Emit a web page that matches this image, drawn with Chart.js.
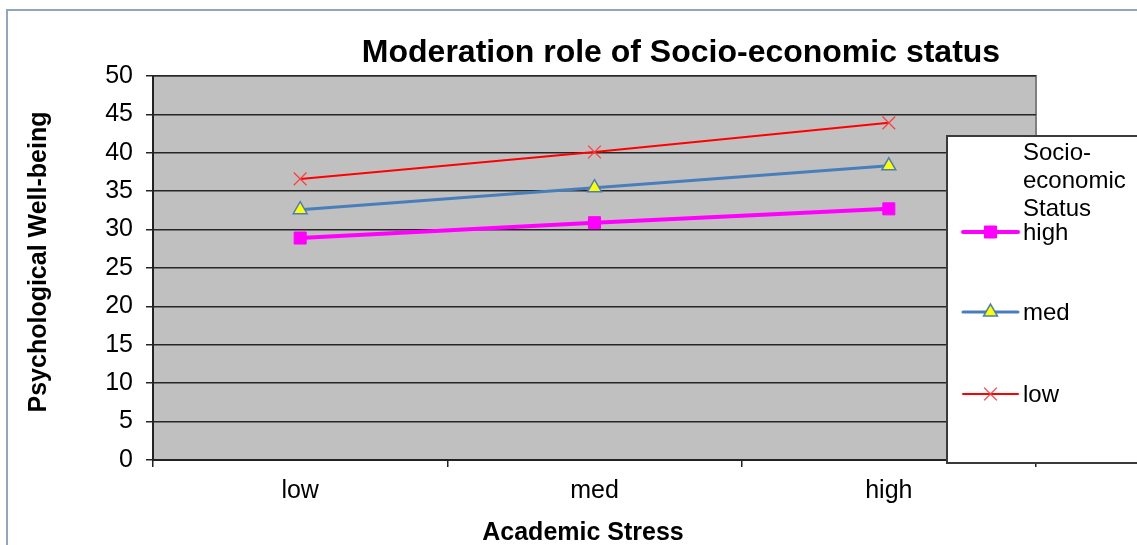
<!DOCTYPE html>
<html>
<head>
<meta charset="utf-8">
<title>Moderation role of Socio-economic status</title>
<script src="https://cdn.jsdelivr.net/npm/chart.js@4/dist/chart.umd.min.js"></script>
<style>
  html, body { margin: 0; padding: 0; background: #ffffff; }
  #wrap { width: 1137px; height: 545px; position: relative; }
</style>
</head>
<body>
<div id="wrap"><canvas id="chart" width="1137" height="545"></canvas></div>
<script>
// Academic stress levels on the x axis
const categories = ['low', 'med', 'high'];

// Psychological well-being per socio-economic status group
const seriesNames = ['high', 'med', 'low'];
const highSES = [28.9, 30.9, 32.7];
const medSES = [32.6, 35.45, 38.3];
const lowSES = [36.6, 40.1, 43.9];

// Value axis
const yMin = 0;
const yMax = 50;
const yStep = 5;

const titleText = 'Moderation role of Socio-economic status';
const xTitleText = 'Academic Stress';
const yTitleText = 'Psychological Well-being';
const legendTitleLines = ['Socio-', 'economic', 'Status'];

const FONT = '"Liberation Sans", Arial, Helvetica, sans-serif';

// Outer frame, plot background, titles and the boxed legend
const decor = {
  id: 'decor',
  beforeDraw(chart) {
    const { ctx, chartArea: a } = chart;
    ctx.save();
    ctx.fillStyle = '#ffffff';
    ctx.fillRect(0, 0, chart.width, chart.height);
    // frame
    ctx.strokeStyle = '#93a6c1';
    ctx.lineWidth = 2;
    ctx.beginPath();
    ctx.moveTo(7, chart.height + 2);
    ctx.lineTo(7, 10);
    ctx.lineTo(chart.width + 2, 10);
    ctx.stroke();
    // plot area
    ctx.fillStyle = '#c0c0c0';
    ctx.fillRect(a.left, a.top, a.right - a.left, a.bottom - a.top);
    ctx.strokeStyle = '#808080';
    ctx.lineWidth = 2;
    ctx.strokeRect(a.left, a.top, a.right - a.left, a.bottom - a.top);
    ctx.restore();
  },
  afterDraw(chart) {
    const { ctx, chartArea: a } = chart;
    ctx.save();
    ctx.fillStyle = '#000000';
    // chart title
    ctx.font = 'bold 32px ' + FONT;
    ctx.textAlign = 'center';
    ctx.textBaseline = 'alphabetic';
    ctx.fillText(titleText, a.left + 528, 62);
    // x axis title
    ctx.font = 'bold 25px ' + FONT;
    ctx.fillText(xTitleText, a.left + 430, 540);
    // y axis title
    ctx.save();
    ctx.translate(39, a.top + 186);
    ctx.rotate(-Math.PI / 2);
    ctx.textBaseline = 'middle';
    ctx.fillText(yTitleText, 0, 0);
    ctx.restore();

    // legend box
    const bx = 947, by = 136, bh = 327;
    ctx.fillStyle = '#ffffff';
    ctx.fillRect(bx, by, chart.width - bx + 5, bh);
    ctx.strokeStyle = '#3a3a3a';
    ctx.lineWidth = 2;
    ctx.strokeRect(bx, by, chart.width - bx + 5, bh);

    ctx.fillStyle = '#000000';
    ctx.font = '24px ' + FONT;
    ctx.textAlign = 'left';
    ctx.textBaseline = 'alphabetic';
    legendTitleLines.forEach((t, i) => ctx.fillText(t, 1023, 160 + i * 28));

    const rows = [232, 312, 394];
    chart.data.datasets.forEach((ds, i) => {
      const y = rows[i];
      ctx.strokeStyle = ds.borderColor;
      ctx.lineWidth = ds.borderWidth;
      ctx.lineCap = 'round';
      ctx.beginPath();
      ctx.moveTo(963, y);
      ctx.lineTo(1018, y);
      ctx.stroke();
      ctx.lineCap = 'butt';
      ctx.fillStyle = ds.pointBackgroundColor;
      ctx.strokeStyle = ds.pointBorderColor;
      ctx.lineWidth = ds.pointBorderWidth;
      Chart.helpers.drawPoint(ctx, {
        pointStyle: ds.pointStyle,
        radius: ds.pointRadius,
        rotation: 0,
        borderWidth: ds.pointBorderWidth
      }, 990.5, y);
      ctx.fillStyle = '#000000';
      ctx.textBaseline = 'middle';
      ctx.fillText(ds.label, 1023, y + 1);
    });
    ctx.restore();
  }
};

new Chart(document.getElementById('chart'), {
  type: 'line',
  data: {
    labels: categories,
    datasets: [
      {
        label: seriesNames[0],
        data: highSES,
        borderColor: '#ff00ff',
        borderWidth: 4,
        pointStyle: 'rect',
        pointRadius: 8.5,
        pointBackgroundColor: '#ff00ff',
        pointBorderColor: '#ff00ff',
        pointBorderWidth: 1
      },
      {
        label: seriesNames[1],
        data: medSES,
        borderColor: '#4a7ebb',
        borderWidth: 3,
        pointStyle: 'triangle',
        pointRadius: 8,
        pointBackgroundColor: '#ffff00',
        pointBorderColor: '#4a7ebb',
        pointBorderWidth: 1.5
      },
      {
        label: seriesNames[2],
        data: lowSES,
        borderColor: '#ff0000',
        borderWidth: 2,
        pointStyle: 'crossRot',
        pointRadius: 9,
        pointBackgroundColor: '#ff3b3b',
        pointBorderColor: '#ff3b3b',
        pointBorderWidth: 1.2
      }
    ]
  },
  options: {
    responsive: false,
    animation: false,
    devicePixelRatio: 1,
    layout: { padding: { left: 0, top: 76, right: 101, bottom: 0 } },
    plugins: {
      legend: { display: false },
      title: { display: false },
      tooltip: { enabled: false }
    },
    elements: { line: { tension: 0, fill: false } },
    scales: {
      x: {
        type: 'category',
        offset: true,
        grid: {
          offset: true,
          drawOnChartArea: false,
          drawTicks: true,
          tickLength: 7,
          color: '#222222',
          lineWidth: 1.5
        },
        border: { display: true, color: '#222222', width: 2 },
        ticks: {
          color: '#000000',
          padding: 9,
          font: { family: FONT, size: 25 }
        },
        afterFit(scale) { scale.height = 85; }
      },
      y: {
        min: yMin,
        max: yMax,
        grid: {
          color: '#262626',
          lineWidth: 1.5,
          drawTicks: true,
          tickLength: 7
        },
        border: { display: true, color: '#222222', width: 2 },
        ticks: {
          stepSize: yStep,
          color: '#000000',
          padding: 13,
          font: { family: FONT, size: 25 }
        },
        afterFit(scale) { scale.width = 153; }
      }
    }
  },
  plugins: [decor]
});
</script>
</body>
</html>
